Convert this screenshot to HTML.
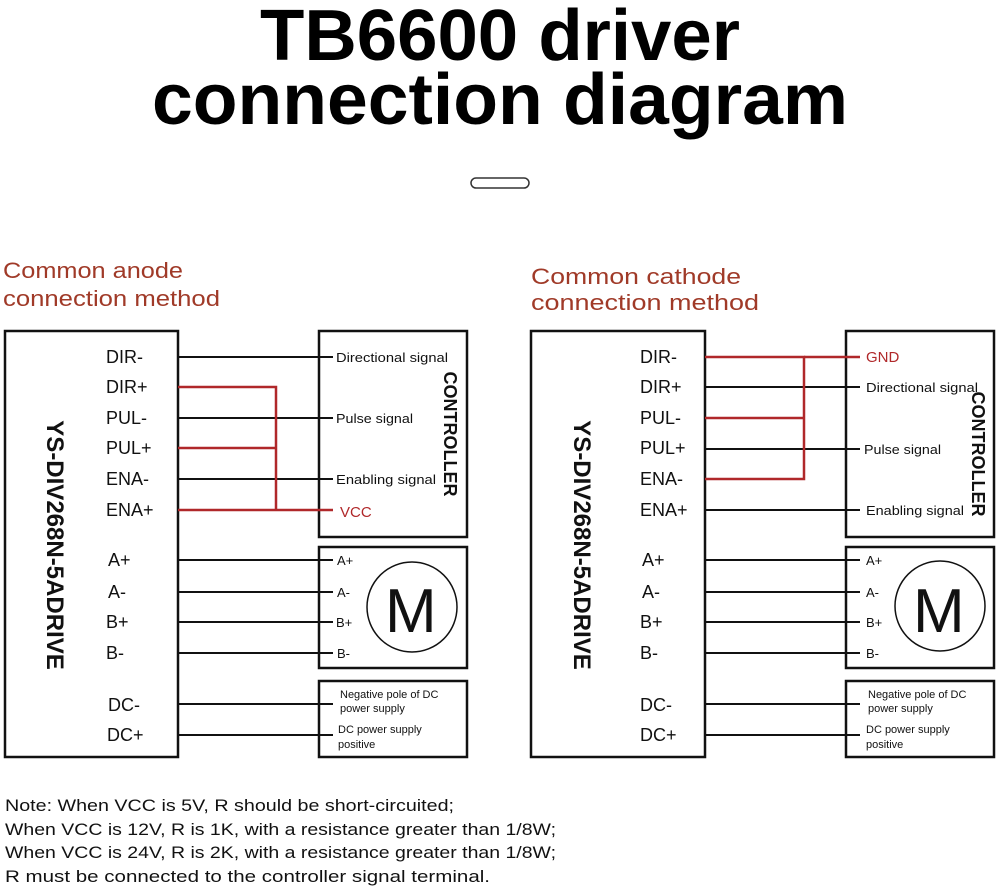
<!DOCTYPE html>
<html><head><meta charset="utf-8"><style>
html,body{margin:0;padding:0;background:#fff;}
svg{display:block;}
text{font-family:"Liberation Sans",sans-serif;}
</style></head><body>
<svg width="1000" height="888" viewBox="0 0 1000 888" xmlns="http://www.w3.org/2000/svg">
<text x="500" y="60" text-anchor="middle" font-size="72" font-weight="bold" textLength="480" lengthAdjust="spacingAndGlyphs">TB6600 driver</text>
<text x="500" y="124" text-anchor="middle" font-size="72" font-weight="bold" textLength="696" lengthAdjust="spacingAndGlyphs">connection diagram</text>
<rect x="471" y="178" width="58" height="10" rx="5" fill="none" stroke="#333" stroke-width="1.5"/>
<g fill="#a03a28" font-size="22">
<text x="3" y="278" textLength="180" lengthAdjust="spacingAndGlyphs">Common anode</text>
<text x="3" y="306" textLength="217" lengthAdjust="spacingAndGlyphs">connection method</text>
<text x="531" y="284" textLength="210" lengthAdjust="spacingAndGlyphs">Common cathode</text>
<text x="531" y="310" textLength="228" lengthAdjust="spacingAndGlyphs">connection method</text>
</g>

<!-- LEFT -->
<g fill="none" stroke="#111" stroke-width="2.5">
<rect x="5" y="331" width="173" height="426"/>
<rect x="319" y="331" width="148" height="206"/>
<rect x="319" y="547" width="148" height="121"/>
<rect x="319" y="681" width="148" height="76"/>
<circle cx="412" cy="607" r="45" stroke-width="1.5"/>
</g>
<g stroke="#111" stroke-width="2">
<line x1="178" y1="357" x2="333" y2="357"/>
<line x1="178" y1="418" x2="333" y2="418"/>
<line x1="178" y1="479" x2="333" y2="479"/>
<line x1="178" y1="560" x2="333" y2="560"/>
<line x1="178" y1="592" x2="333" y2="592"/>
<line x1="178" y1="622" x2="333" y2="622"/>
<line x1="178" y1="653" x2="333" y2="653"/>
<line x1="178" y1="704" x2="333" y2="704"/>
<line x1="178" y1="735" x2="333" y2="735"/>
</g>
<g stroke="#b0282a" stroke-width="2.5" fill="none">
<polyline points="178,387 276,387 276,510"/>
<line x1="178" y1="448" x2="276" y2="448"/>
<line x1="178" y1="510" x2="333" y2="510"/>
</g>
<g font-size="18" fill="#111">
<text x="106" y="363">DIR-</text><text x="106" y="393">DIR+</text>
<text x="106" y="424">PUL-</text><text x="106" y="454">PUL+</text>
<text x="106" y="485">ENA-</text><text x="106" y="516">ENA+</text>
<text x="108" y="566">A+</text><text x="108" y="598">A-</text>
<text x="106" y="628">B+</text><text x="106" y="659">B-</text>
<text x="108" y="711">DC-</text><text x="107" y="741">DC+</text>
</g>
<g font-size="13" fill="#111">
<text x="336" y="362" textLength="112" lengthAdjust="spacingAndGlyphs">Directional signal</text>
<text x="336" y="423" textLength="77" lengthAdjust="spacingAndGlyphs">Pulse signal</text>
<text x="336" y="484" textLength="100" lengthAdjust="spacingAndGlyphs">Enabling signal</text>
<text x="337" y="565">A+</text><text x="337" y="597">A-</text>
<text x="336" y="627">B+</text><text x="337" y="658">B-</text>
</g>
<text x="340" y="517" font-size="15" fill="#b0282a">VCC</text>
<g font-size="11" fill="#111">
<text x="340" y="698">Negative pole of DC</text><text x="340" y="712">power supply</text>
<text x="338" y="733">DC power supply</text><text x="338" y="748">positive</text>
</g>
<text x="385" y="632" font-size="62" fill="#111">M</text>
<text transform="translate(47,545) rotate(90)" text-anchor="middle" font-size="24" font-weight="bold" fill="#111">YS-DIV268N-5ADRIVE</text>
<text transform="translate(444,434) rotate(90)" text-anchor="middle" font-size="18" font-weight="bold" fill="#111">CONTROLLER</text>

<!-- RIGHT -->
<g fill="none" stroke="#111" stroke-width="2.5">
<rect x="531" y="331" width="174" height="426"/>
<rect x="846" y="331" width="148" height="206"/>
<rect x="846" y="547" width="148" height="121"/>
<rect x="846" y="681" width="148" height="76"/>
<circle cx="940" cy="606" r="45" stroke-width="1.5"/>
</g>
<g stroke="#111" stroke-width="2">
<line x1="705" y1="387" x2="860" y2="387"/>
<line x1="705" y1="449" x2="860" y2="449"/>
<line x1="705" y1="510" x2="860" y2="510"/>
<line x1="705" y1="560" x2="860" y2="560"/>
<line x1="705" y1="592" x2="860" y2="592"/>
<line x1="705" y1="622" x2="860" y2="622"/>
<line x1="705" y1="653" x2="860" y2="653"/>
<line x1="705" y1="704" x2="860" y2="704"/>
<line x1="705" y1="735" x2="860" y2="735"/>
</g>
<g stroke="#b0282a" stroke-width="2.5" fill="none">
<polyline points="705,357 804,357 804,479 705,479"/>
<line x1="804" y1="357" x2="860" y2="357"/>
<line x1="705" y1="418" x2="804" y2="418"/>
</g>
<g font-size="18" fill="#111">
<text x="640" y="363">DIR-</text><text x="640" y="393">DIR+</text>
<text x="640" y="424">PUL-</text><text x="640" y="454">PUL+</text>
<text x="640" y="485">ENA-</text><text x="640" y="516">ENA+</text>
<text x="642" y="566">A+</text><text x="642" y="598">A-</text>
<text x="640" y="628">B+</text><text x="640" y="659">B-</text>
<text x="640" y="711">DC-</text><text x="640" y="741">DC+</text>
</g>
<text x="866" y="362" font-size="15" fill="#b0282a">GND</text>
<g font-size="13" fill="#111">
<text x="866" y="392" textLength="112" lengthAdjust="spacingAndGlyphs">Directional signal</text>
<text x="864" y="454" textLength="77" lengthAdjust="spacingAndGlyphs">Pulse signal</text>
<text x="866" y="515" textLength="98" lengthAdjust="spacingAndGlyphs">Enabling signal</text>
<text x="866" y="565">A+</text><text x="866" y="597">A-</text>
<text x="866" y="627">B+</text><text x="866" y="658">B-</text>
</g>
<g font-size="11" fill="#111">
<text x="868" y="698">Negative pole of DC</text><text x="868" y="712">power supply</text>
<text x="866" y="733">DC power supply</text><text x="866" y="748">positive</text>
</g>
<text x="913" y="632" font-size="62" fill="#111">M</text>
<text transform="translate(574,545) rotate(90)" text-anchor="middle" font-size="24" font-weight="bold" fill="#111">YS-DIV268N-5ADRIVE</text>
<text transform="translate(972,454) rotate(90)" text-anchor="middle" font-size="18" font-weight="bold" fill="#111">CONTROLLER</text>

<g font-size="17" fill="#111">
<text x="5" y="811" textLength="449" lengthAdjust="spacingAndGlyphs">Note: When VCC is 5V, R should be short-circuited;</text>
<text x="5" y="835" textLength="551" lengthAdjust="spacingAndGlyphs">When VCC is 12V, R is 1K, with a resistance greater than 1/8W;</text>
<text x="5" y="858" textLength="551" lengthAdjust="spacingAndGlyphs">When VCC is 24V, R is 2K, with a resistance greater than 1/8W;</text>
<text x="5" y="882" textLength="485" lengthAdjust="spacingAndGlyphs">R must be connected to the controller signal terminal.</text>
</g>
</svg>
</body></html>
